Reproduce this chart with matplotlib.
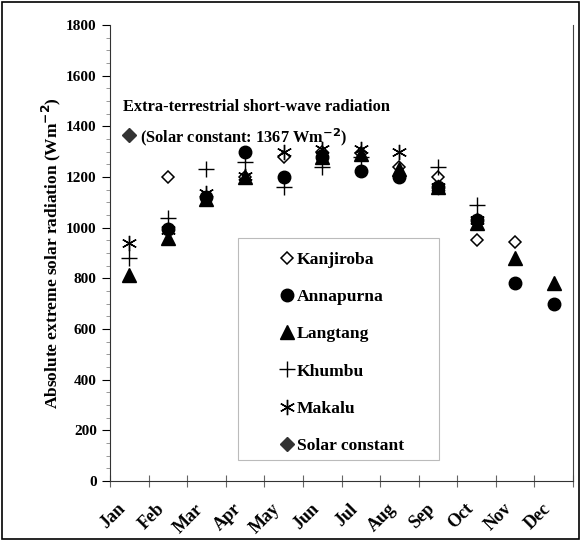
import numpy as np
import matplotlib.pyplot as plt
import matplotlib.transforms as mtransforms
from matplotlib.ticker import MultipleLocator

# dados
meses = ['Jan', 'Feb', 'Mar', 'Apr', 'May', 'Jun', 'Jul', 'Aug', 'Sep', 'Oct', 'Nov', 'Dec']
nan = np.nan
kanjiroba = [nan, 1200, nan, 1200, 1280, 1300, 1295, 1240, 1200, 950, 945, nan]
annapurna = [nan, 995, 1120, 1300, 1200, 1280, 1225, 1200, 1160, 1030, 780, 700]
langtang = [815, 960, 1115, 1200, nan, 1280, 1290, 1230, 1160, 1020, 880, 780]
khumbu = [880, 1040, 1230, 1260, 1160, 1240, 1280, nan, 1240, 1090, nan, nan]
makalu = [940, 990, 1135, 1205, 1300, 1310, 1310, 1300, 1160, 1030, nan, nan]
solar_const = [1367] + [nan] * 11

plt.rcParams['font.family'] = 'Liberation Serif'
plt.rcParams['font.weight'] = 'bold'

fig = plt.figure(figsize=(5.81, 5.41), dpi=100)
ax = fig.add_axes([110 / 581, 1 - 481 / 541, 463 / 581, 456 / 541])
x = np.arange(len(meses))

ax.plot(x, kanjiroba, 'D', ms=6.5, mfc='white', mec='black', mew=1.1, ls='none', label='Kanjiroba')
ax.plot(x, annapurna, 'o', ms=9, color='black', ls='none', label='Annapurna')
ax.plot(x, langtang, '^', ms=9.5, color='black', ls='none', label='Langtang')
ax.plot(x, khumbu, '+', ms=11, mew=1.0, color='black', ls='none', label='Khumbu')
ax.plot(x, makalu, marker=(6, 2, 0), ms=11, mew=1.0, color='black', ls='none', label='Makalu')
ax.plot(x, solar_const, 'D', ms=7, color='#333333', ls='none', label='Solar constant')

ax.set_xlim(-0.5, 11.5)
ax.set_ylim(0, 1800)
ax.yaxis.set_major_locator(MultipleLocator(200))
ax.yaxis.set_minor_locator(MultipleLocator(50))
ax.set_xticks(np.arange(-0.5, 12, 1))
ax.set_xticklabels([])
ax.set_xticks(x, minor=True)
ax.set_xticklabels(meses, minor=True, rotation=45, ha='right', va='top',
                   fontsize=13, fontweight='bold')
desloc = mtransforms.ScaledTranslation(-8 / 100, 0, fig.dpi_scale_trans)
for lbl in ax.get_xticklabels(minor=True):
    lbl.set_transform(lbl.get_transform() + desloc)
ax.tick_params(axis='x', which='major', direction='inout', length=8, width=0.8, color='#666666')
ax.tick_params(axis='x', which='minor', length=0, pad=14)
ax.tick_params(axis='y', which='major', direction='out', length=6, width=0.8, labelsize=11)
ax.tick_params(axis='y', which='minor', direction='out', length=3, width=0.6, color='#888888')
for lbl in ax.get_yticklabels():
    lbl.set_fontweight('bold')

ax.spines['top'].set_visible(False)
ax.spines['left'].set_color('#333333')
ax.spines['bottom'].set_color('#333333')
ax.spines['right'].set_color('#444444')

ax.set_ylabel('Absolute extreme solar radiation (Wm$^{\\mathbf{-2}}$)', fontsize=12.5, fontweight='bold')
ax.yaxis.set_label_coords(-0.102, 0.5)

ax.text(0.028, 0.820, 'Extra-terrestrial short-wave radiation', transform=ax.transAxes,
        fontsize=11.8, fontweight='bold', va='center')
ax.text(0.065, 0.754, '(Solar constant: 1367 Wm$^{\\mathbf{-2}}$)', transform=ax.transAxes,
        fontsize=11.8, fontweight='bold', va='center')

# caixa da legenda desenhada à parte
caixa = plt.Rectangle((0.2765, 0.046), 0.434, 0.487, transform=ax.transAxes, fill=False,
                      edgecolor='#bbbbbb', linewidth=0.8, zorder=4)
ax.add_patch(caixa)
leg = ax.legend(loc='upper left', bbox_to_anchor=(0.3715, 0.502), frameon=False, fontsize=12.6,
                labelspacing=1.19, handlelength=0.6, handletextpad=0.26, borderpad=0,
                numpoints=1, borderaxespad=0)
for t in leg.get_texts():
    t.set_fontweight('bold')

# moldura externa
fig.patches.append(plt.Rectangle((0.003, 0.003), 0.994, 0.994, transform=fig.transFigure,
                                 fill=False, edgecolor='black', linewidth=1.2))

plt.savefig('out.png', dpi=100)
plt.close()
